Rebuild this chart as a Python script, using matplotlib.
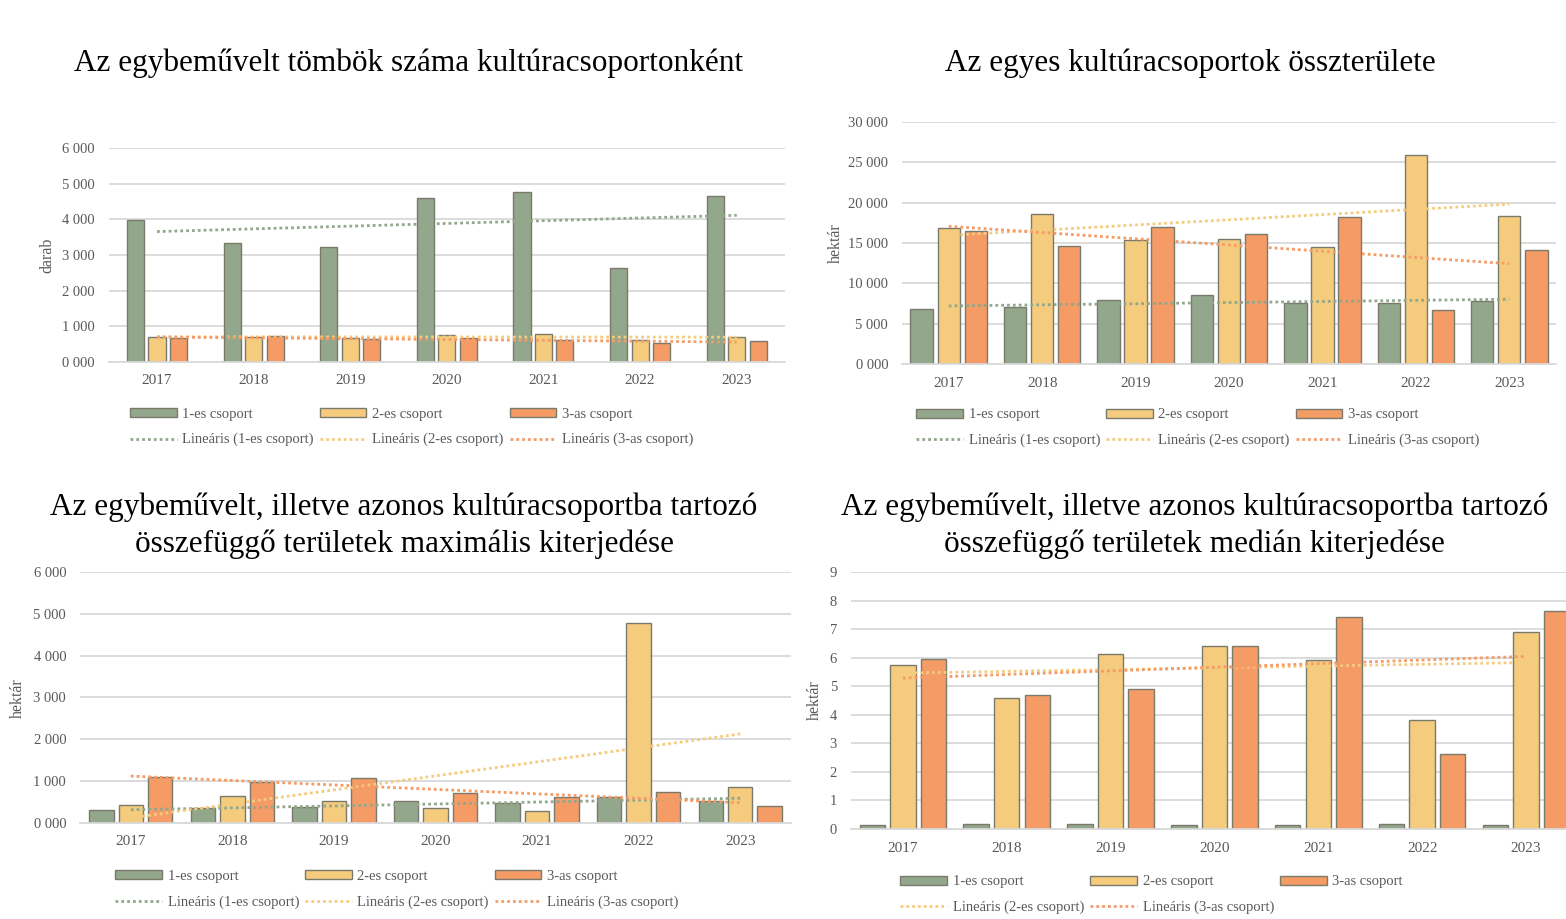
import numpy as np
import matplotlib
matplotlib.use("Agg")
import matplotlib.pyplot as plt
from matplotlib.ticker import FuncFormatter

plt.rcParams['font.family'] = ['Liberation Serif', 'DejaVu Serif']

years = ["2017", "2018", "2019", "2020", "2021", "2022", "2023"]
groups = ["1-es csoport", "2-es csoport", "3-as csoport"]

# tömbök száma (darab)
count_g1 = [3980, 3330, 3230, 4610, 4760, 2640, 4640]
count_g2 = [700, 700, 660, 750, 780, 630, 690]
count_g3 = [660, 720, 650, 660, 610, 530, 580]

# összterület (hektár)
area_g1 = [6830, 7030, 7900, 8560, 7530, 7610, 7860]
area_g2 = [16880, 18620, 15430, 15510, 14480, 25940, 18330]
area_g3 = [16510, 14600, 17000, 16090, 18250, 6700, 14150]

# maximális kiterjedés (hektár)
max_g1 = [300, 360, 375, 520, 480, 620, 520]
max_g2 = [420, 640, 520, 360, 295, 4790, 850]
max_g3 = [1090, 970, 1080, 710, 620, 750, 400]

# medián kiterjedés (hektár)
med_g1 = [0.15, 0.19, 0.19, 0.15, 0.15, 0.19, 0.15]
med_g2 = [5.74, 4.60, 6.13, 6.40, 5.91, 3.82, 6.91]
med_g3 = [5.94, 4.68, 4.91, 6.42, 7.41, 2.64, 7.65]

colors = ["#92a78b", "#f5cb7e", "#f59b66"]
edge = "#7a7a6c"
txt = "#595959"
grid = "#d9d9d9"


def thousands(v, pos):
    v = int(round(v))
    return f"{v // 1000} {v % 1000:03d}"


def panel(rect, series, ylim, ystep, ylabel, ylab_pos, title, title_pos,
          width, step, trend_idx, leg_pos, fmt=None):
    ax = fig.add_axes(rect)
    x = np.arange(len(years))
    bars = []
    for i, vals in enumerate(series):
        b = ax.bar(x + (i - 1) * step, vals, width, color=colors[i],
                   edgecolor=edge, linewidth=1.0, zorder=2)
        bars.append(b)
    lines = {}
    for i in trend_idx:
        k, c = np.polyfit(x, series[i], 1)
        ln, = ax.plot(x, k * x + c, linestyle=(0, (1, 1.1)), color=colors[i],
                      linewidth=2.0, zorder=3)
        lines[i] = ln
    ax.set_xlim(-0.5, len(years) - 0.5)
    ax.set_ylim(*ylim)
    ax.set_yticks(np.arange(ylim[0], ylim[1] + ystep / 2, ystep))
    if fmt is not None:
        ax.yaxis.set_major_formatter(FuncFormatter(fmt))
    ax.set_xticks(x)
    ax.set_xticklabels(years)
    ax.tick_params(length=0, colors=txt, labelsize=10.5, pad=10)
    ax.tick_params(axis='x', pad=9, labelsize=11)
    ax.grid(axis='y', color=grid, linewidth=1.3, zorder=0)
    ax.set_axisbelow(True)
    for s in ["top", "right", "left"]:
        ax.spines[s].set_visible(False)
    ax.spines["bottom"].set_color(grid)
    ax.spines["bottom"].set_linewidth(1.3)
    fig.text(ylab_pos[0], ylab_pos[1], ylabel, rotation=90, ha="center",
             va="center", color=txt, fontsize=11.5)
    fig.text(title_pos[0], title_pos[1], title, ha="center", va="center",
             fontsize=22.5, color="black", linespacing=1.3)

    handles, labels = [], []
    for i in range(3):
        handles.append(bars[i])
        labels.append(groups[i])
        j = trend_idx[i] if i < len(trend_idx) else None
        if j is not None:
            handles.append(lines[j])
            labels.append(f"Lineáris ({groups[j]})")
    fig.legend(handles, labels, ncol=3, loc="upper left",
               bbox_to_anchor=leg_pos, frameon=False, fontsize=10.5,
               labelcolor=txt, handlelength=3.2, handleheight=0.55,
               handletextpad=0.4, columnspacing=0.4, labelspacing=0.85,
               borderpad=0, borderaxespad=0)
    return ax


fig = plt.figure(figsize=(15.66, 9.19), dpi=100)

panel([0.0694, 0.6061, 0.4319, 0.2329], [count_g1, count_g2, count_g3],
      (0, 6000), 1000, "darab", (0.030, 0.7225),
      "Az egybeművelt tömbök száma kultúracsoportonként", (0.261, 0.931),
      0.177, 0.222, [0, 1, 2], (0.083, 0.5565), fmt=thousands)

panel([0.576, 0.6039, 0.4176, 0.2633], [area_g1, area_g2, area_g3],
      (0, 30000), 5000, "hektár", (0.534, 0.7356),
      "Az egyes kultúracsoportok összterülete", (0.760, 0.931),
      0.24, 0.29, [0, 1, 2], (0.585, 0.5555), fmt=thousands)

panel([0.0511, 0.1045, 0.454, 0.2731], [max_g1, max_g2, max_g3],
      (0, 6000), 1000, "hektár", (0.0115, 0.2405),
      "Az egybeművelt, illetve azonos kultúracsoportba tartozó\n"
      "összefüggő területek maximális kiterjedése", (0.258, 0.428),
      0.24, 0.29, [0, 1, 2], (0.0735, 0.0535), fmt=thousands)

panel([0.5434, 0.0979, 0.4642, 0.2797], [med_g1, med_g2, med_g3],
      (0, 9), 1, "hektár", (0.5204, 0.2383),
      "Az egybeművelt, illetve azonos kultúracsoportba tartozó\n"
      "összefüggő területek medián kiterjedése", (0.763, 0.428),
      0.245, 0.295, [1, 2], (0.575, 0.0475))

fig.savefig("out.png", dpi=100)
